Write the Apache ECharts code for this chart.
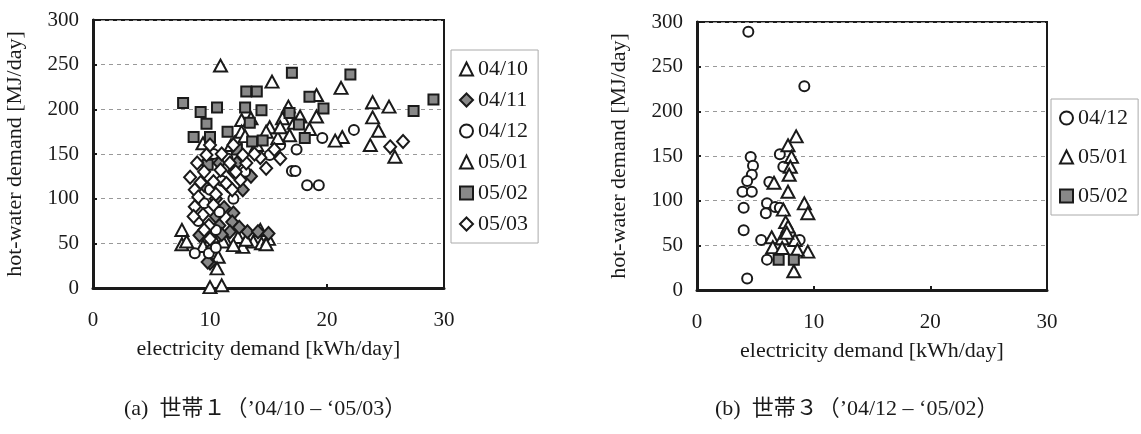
<!DOCTYPE html>
<html>
<head>
<meta charset="utf-8">
<script src="https://cdn.jsdelivr.net/npm/echarts@6/dist/echarts.min.js"></script>
<style>
  html, body { margin: 0; padding: 0; background: #fff; }
  #main { width: 1141px; height: 434px; }
</style>
</head>
<body>
<div id="main"></div>
<script>
// household 1 ('04/10 - '05/03): [electricity kWh/day, hot-water MJ/day]
var h1_0410 = [[7.6,65],[7.6,49],[8.0,52],[10.7,35],[10.6,22],[10.0,1],[11.0,3],[11.3,54],[12.4,57],[12.8,46],
  [13.7,52],[14.3,65],[14.4,50],[13.1,54],[11.1,52],[10.2,58],[9.4,47],[12.0,48],[15.0,55],[14.8,49]];
var h1_0411 = [[9.7,63],[9.1,59],[10.0,28],[12.0,84],[11.9,74],[11.7,63],[13.2,63],[14.1,63],[15.0,61],[9.8,29],
  [10.5,80],[10.8,70],[10.2,45],[11.2,90],[12.8,110],[12.0,130],[11.5,115],[10.5,100],[13.5,125],[9.5,115],
  [10.8,140],[12.3,140],[11.0,60],[12.5,68]];
var h1_0412 = [[8.7,39],[9.9,39],[10.5,45],[17.4,155],[17.0,131],[17.3,131],[18.3,115],[19.3,115],[19.6,168],[22.3,177],
  [15.1,149],[12.4,166],[10.3,150],[11.0,120],[10.0,110],[9.5,95],[10.8,85],[11.5,145],[12.0,100],[13.0,130],
  [14.0,150],[16.0,160],[9.0,75],[10.5,65]];
var h1_0501 = [[10.9,249],[15.3,231],[16.7,203],[12.7,188],[9.4,162],[15.1,180],[21.2,224],[19.1,216],[19.1,192],[17.7,192],
  [16.2,190],[23.9,208],[25.3,203],[23.9,191],[24.4,176],[23.7,160],[21.3,169],[20.7,165],[16.8,171],[15.8,168],
  [25.8,147],[12.7,175],[13.5,190],[14.8,175],[16.0,180],[17.2,185],[11.8,160],[13.0,170],[18.5,178],[14.0,160]];
var h1_0502 = [[7.7,207],[9.2,197],[10.6,202],[13.1,220],[14.0,220],[13.0,202],[14.4,199],[17.0,241],[22.0,239],[18.5,214],
  [16.8,196],[19.7,201],[17.6,183],[18.1,168],[13.6,164],[14.5,165],[27.4,198],[29.1,211],[9.7,184],[13.4,185],
  [8.6,169],[10.0,169],[12.3,155],[9.8,138],[11.5,175]];
var h1_0503 = [[8.3,124],[8.9,140],[9.7,149],[8.7,110],[9.0,102],[8.7,91],[9.4,82],[10.3,93],[9.9,70],[10.3,119],
  [10.9,132],[11.4,117],[11.9,110],[12.6,121],[13.1,140],[11.7,140],[12.8,149],[14.3,146],[14.8,134],[25.4,158],
  [26.5,164],[10.0,160],[9.5,130],[11.0,150],[12.2,130],[13.8,150],[10.5,105],[9.2,118],[15.5,155],[16.0,145],
  [12.0,160],[8.6,80],[10.0,55],[9.5,65]];

// household 3 ('04/12 - '05/02)
var h3_0412 = [[4.4,289],[9.2,228],[7.1,152],[4.6,149],[4.8,139],[7.4,138],[4.7,129],[4.3,122],[6.2,121],[3.9,110],
  [4.7,110],[6.0,97],[5.9,86],[6.7,93],[7.1,92],[4.0,92],[4.0,67],[5.5,56],[6.0,34],[4.3,13],[8.8,56]];
var h3_0501 = [[8.5,172],[7.8,162],[8.1,149],[8.0,138],[7.9,129],[6.6,120],[7.8,110],[9.2,97],[9.5,86],[7.4,90],
  [7.6,76],[7.8,71],[6.4,59],[6.5,48],[7.3,58],[7.3,47],[8.4,56],[9.5,43],[8.6,45],[7.7,64],[8.3,21]];
var h3_0502 = [[7.0,34],[8.3,34]];

var xTicks = { min: 0, max: 30, interval: 10 };
var yTicks = { min: 0, max: 300, interval: 50 };

var serif = '"Liberation Serif", "Times New Roman", serif';
var ink = '#1a1a1a';

var sym = {
  tri:  { symbol: 'triangle', symbolSize: [13, 12], color: '#fff' },
  dia:  { symbol: 'diamond',  symbolSize: [12, 13], color: '#fff' },
  diaG: { symbol: 'diamond',  symbolSize: [12, 13], color: '#888' },
  cir:  { symbol: 'circle',   symbolSize: 10,       color: '#fff' },
  sqG:  { symbol: 'rect',     symbolSize: 10,       color: '#888' }
};

function sc(name, data, s, idx) {
  return {
    name: name, type: 'scatter', data: data,
    xAxisIndex: idx, yAxisIndex: idx,
    symbol: s.symbol, symbolSize: s.symbolSize,
    itemStyle: { color: s.color, borderColor: ink, borderWidth: 2, opacity: 1 },
    emphasis: { disabled: true }
  };
}

function xAx(idx) {
  return {
    type: 'value', gridIndex: idx, min: xTicks.min, max: xTicks.max, interval: xTicks.interval,
    name: 'electricity demand [kWh/day]', nameLocation: 'middle', nameGap: 50,
    nameTextStyle: { fontFamily: serif, fontSize: 22, color: ink },
    axisLine: { show: true, onZero: false, lineStyle: { color: ink, width: 3 } },
    axisTick: { show: true, inside: true, length: 4, lineStyle: { color: ink, width: 2 } },
    axisLabel: { fontFamily: serif, fontSize: 21, color: ink, margin: 22 },
    splitLine: { show: false }
  };
}

function yAx(idx) {
  return {
    type: 'value', gridIndex: idx, min: yTicks.min, max: yTicks.max, interval: yTicks.interval,
    name: 'hot-water demand [MJ/day]', nameLocation: 'middle', nameGap: 67,
    nameTextStyle: { fontFamily: serif, fontSize: 22, color: ink },
    axisLine: { show: true, onZero: false, lineStyle: { color: ink, width: 3 } },
    axisTick: { show: true, inside: true, length: 4, lineStyle: { color: ink, width: 2 } },
    axisLabel: { fontFamily: serif, fontSize: 21, color: ink, margin: 14 },
    splitLine: { show: true, lineStyle: { color: '#999', type: [4, 4], width: 1 } }
  };
}

var legendBase = {
  orient: 'vertical', borderColor: '#aaa', borderWidth: 1, backgroundColor: '#fff',
  itemWidth: 13, itemHeight: 13, selectedMode: false,
  textStyle: { fontFamily: serif, fontSize: 22, color: ink }
};

var chart = echarts.init(document.getElementById('main'), null, { renderer: 'canvas' });
chart.setOption({
  animation: false,
  backgroundColor: '#fff',
  grid: [
    { left: 93, top: 20, width: 351, height: 268, show: true, borderColor: ink, borderWidth: 2, backgroundColor: 'transparent' },
    { left: 697, top: 22, width: 350, height: 268, show: true, borderColor: ink, borderWidth: 2, backgroundColor: 'transparent' }
  ],
  xAxis: [xAx(0), xAx(1)],
  yAxis: [yAx(0), yAx(1)],
  legend: [
    Object.assign({}, legendBase, { left: 451, top: 50, itemGap: 9, padding: [8, 10, 8, 8],
      data: ['04/10', '04/11', '04/12', '05/01', '05/02', '05/03'] }),
    Object.assign({}, legendBase, { left: 1051, top: 99, itemGap: 17, padding: [8, 10, 8, 8],
      data: ['04/12', '05/01', '05/02'] })
  ],
  series: [
    sc('04/10', h1_0410, sym.tri, 0),
    sc('04/11', h1_0411, sym.diaG, 0),
    sc('04/12', h1_0412, sym.cir, 0),
    sc('05/01', h1_0501, sym.tri, 0),
    sc('05/02', h1_0502, sym.sqG, 0),
    sc('05/03', h1_0503, sym.dia, 0),
    sc('04/12', h3_0412, sym.cir, 1),
    sc('05/01', h3_0501, sym.tri, 1),
    sc('05/02', h3_0502, sym.sqG, 1)
  ],
  graphic: [
    { type: 'text', left: 124, top: 398,
      style: { text: '(a)  世帯１（\u201904/10 – \u201805/03）', fontFamily: '"Liberation Serif", "Noto Sans CJK JP"', fontSize: 22, fill: ink } },
    { type: 'text', left: 715, top: 398,
      style: { text: '(b)  世帯３（\u201904/12 – \u201805/02）', fontFamily: '"Liberation Serif", "Noto Sans CJK JP"', fontSize: 22, fill: ink } }
  ]
});
</script>
</body>
</html>
